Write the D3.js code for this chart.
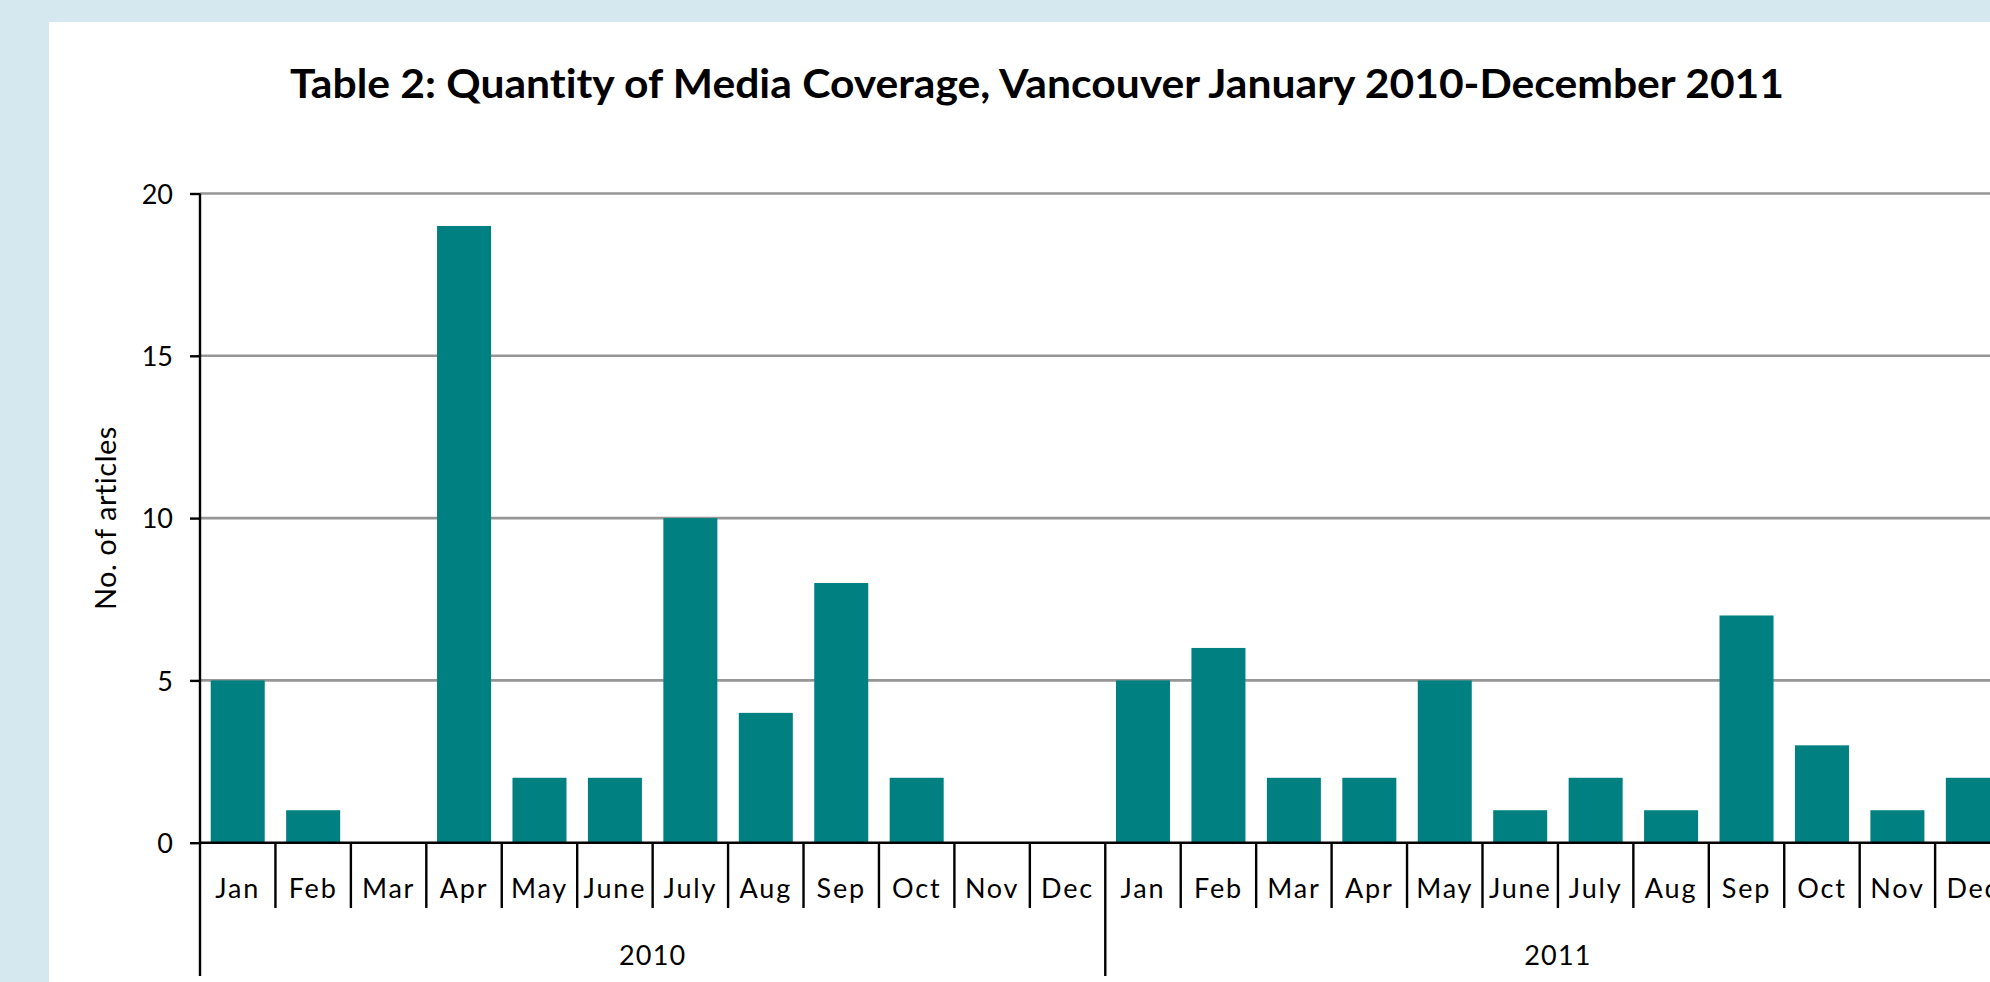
<!DOCTYPE html>
<html>
<head>
<meta charset="utf-8">
<script src="https://cdn.jsdelivr.net/npm/d3@7"></script>
<style>
  html, body { margin: 0; padding: 0; background: #d5e8ef; overflow: hidden; }
  svg { display: block; }
  text { font-family: Lato, "Open Sans", "DejaVu Sans", sans-serif; fill: #000; font-variant-ligatures: none; font-feature-settings: "liga" 0, "clig" 0; }
</style>
</head>
<body>
<svg id="chart" width="1990" height="982"></svg>
<script>
// ---- data ----
const years = ["2010", "2011"];
const months = ["Jan", "Feb", "Mar", "Apr", "May", "June", "July", "Aug", "Sep", "Oct", "Nov", "Dec"];
const values2010 = [5, 1, 0, 19, 2, 2, 10, 4, 8, 2, 0, 0];
const values2011 = [5, 6, 2, 2, 5, 1, 2, 1, 7, 3, 1, 2];
const yTicks = [0, 5, 10, 15, 20];
const titleText = "Table 2: Quantity of Media Coverage, Vancouver January 2010-December 2011";
const yAxisTitle = "No. of articles";

// build records
const records = [];
[values2010, values2011].forEach((vals, yi) => {
  vals.forEach((v, mi) => records.push({ key: years[yi] + "-" + mi, year: years[yi], month: months[mi], value: v }));
});

const svg = d3.select("#chart");
const W = 1990, H = 982;

// background panels
svg.append("rect").attr("x", 0).attr("y", 0).attr("width", W).attr("height", H).attr("fill", "#d5e8ef");
svg.append("rect").attr("x", 49).attr("y", 22).attr("width", W - 49).attr("height", H - 22).attr("fill", "#ffffff");

// layout
const plotLeft = 200, step = 75.44;
const plotRight = plotLeft + step * records.length;
const plotTop = 193.5, plotBottom = 842.7;

const xBand = d3.scaleBand()
  .domain(records.map(d => d.key))
  .range([plotLeft, plotRight])
  .paddingInner(0.284)
  .paddingOuter(0.142);

const y = d3.scaleLinear().domain([0, 20]).range([plotBottom, plotTop]);

// title
svg.append("text")
  .attr("x", 1037).attr("y", 98)
  .attr("text-anchor", "middle")
  .attr("font-size", 41)
  .attr("font-weight", "bold")
  .attr("textLength", 1494)
  .attr("lengthAdjust", "spacingAndGlyphs")
  .text(titleText);

// gridlines
svg.append("g")
  .selectAll("line")
  .data(yTicks.filter(t => t !== 0))
  .join("line")
  .attr("x1", plotLeft).attr("x2", W)
  .attr("y1", d => y(d)).attr("y2", d => y(d))
  .attr("stroke", "#969696").attr("stroke-width", 2.6);

// bars
svg.append("g")
  .selectAll("rect")
  .data(records)
  .join("rect")
  .attr("x", d => xBand(d.key))
  .attr("width", xBand.bandwidth())
  .attr("y", d => y(d.value))
  .attr("height", d => y(0) - y(d.value))
  .attr("fill", "#008080");

// y axis
const yAxis = d3.axisLeft(y).tickValues(yTicks).tickSize(10).tickPadding(17).tickFormat(d3.format("d"));
const yg = svg.append("g").attr("transform", `translate(${plotLeft},0)`).call(yAxis);
yg.select(".domain").remove();
yg.selectAll(".tick line").attr("stroke", "#000").attr("stroke-width", 2.4);
yg.selectAll(".tick text")
  .attr("font-size", 27)
  .attr("font-family", "Lato, 'Open Sans', sans-serif")
  .attr("fill", "#000")
  .attr("dy", "0.36em");

// y axis line (extended down through category area)
svg.append("line")
  .attr("x1", plotLeft).attr("x2", plotLeft)
  .attr("y1", plotTop).attr("y2", 976)
  .attr("stroke", "#000").attr("stroke-width", 2.4);

// x baseline
svg.append("line")
  .attr("x1", plotLeft).attr("x2", W)
  .attr("y1", plotBottom).attr("y2", plotBottom)
  .attr("stroke", "#000").attr("stroke-width", 2.6);

// category boundary ticks
const boundaries = d3.range(1, records.length + 1);
svg.append("g")
  .selectAll("line")
  .data(boundaries)
  .join("line")
  .attr("x1", i => xBand.range()[0] + i * xBand.step())
  .attr("x2", i => xBand.range()[0] + i * xBand.step())
  .attr("y1", plotBottom)
  .attr("y2", i => (i % months.length === 0) ? 976 : 908)
  .attr("stroke", "#000").attr("stroke-width", 2.4);

// month labels
svg.append("g")
  .selectAll("text")
  .data(records)
  .join("text")
  .attr("x", d => xBand(d.key) + xBand.bandwidth() / 2)
  .attr("y", 898)
  .attr("text-anchor", "middle")
  .attr("font-size", 27)
  .attr("letter-spacing", 1.8)
  .text(d => d.month);

// year labels
svg.append("g")
  .selectAll("text")
  .data(years)
  .join("text")
  .attr("x", (d, i) => {
    const a = plotLeft + i * months.length * step;
    const b = a + months.length * step;
    return (a + b) / 2;
  })
  .attr("y", 965)
  .attr("text-anchor", "middle")
  .attr("font-size", 27)
  .attr("letter-spacing", 1.2)
  .text(d => d);

// y axis title
svg.append("text")
  .attr("transform", `translate(116, ${(plotTop + plotBottom) / 2}) rotate(-90)`)
  .attr("text-anchor", "middle")
  .attr("font-size", 29)
  .attr("letter-spacing", 0.5)
  .text(yAxisTitle);
</script>
</body>
</html>
